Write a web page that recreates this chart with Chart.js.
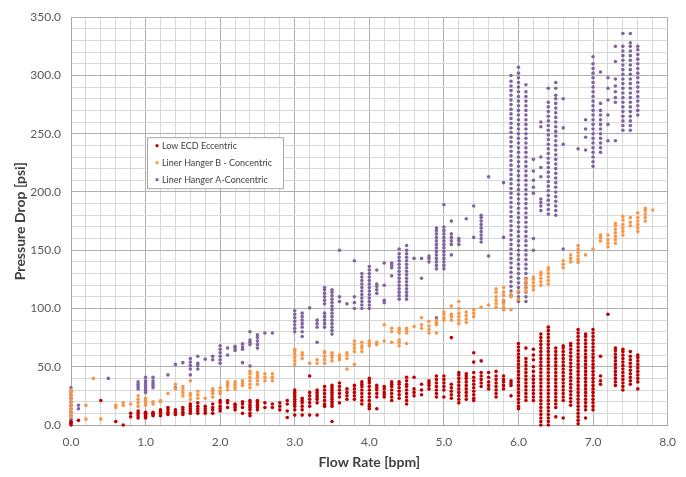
<!DOCTYPE html>
<html>
<head>
<meta charset="utf-8">
<script src="https://cdn.jsdelivr.net/npm/chart.js@4"></script>
<style>
  html, body { margin: 0; padding: 0; background: #fff; }
  canvas { display: block; }
</style>
</head>
<body>
<canvas id="dropChart" width="686" height="477"></canvas>
<script>
// flow rate [bpm] -> pressure drop readings [psi], one column per flow rate
const lowEcdColumns = [
  [0.0, [0, 1, 2, 3]], [0.1, [4]], [0.4, [21]], [0.6, [3]], [0.7, [0]],
  [0.8, [7, 10]], [0.9, [6, 8, 10, 12]], [1.0, [6, 7, 8, 9, 10, 11]], [1.1, [8, 9, 10, 11]],
  [1.2, [8, 10, 12, 13]], [1.3, [9, 11, 13, 15]], [1.4, [9, 11, 13]], [1.5, [9, 11, 13, 15]],
  [1.6, [10, 12, 14, 16, 18]], [1.7, [10, 12, 14, 16, 19]], [1.8, [10, 12, 14, 16]],
  [1.9, [10, 13, 15, 18]], [2.0, [12, 14, 16, 19, 21]], [2.1, [15, 19, 21]], [2.2, [13, 15, 17, 18]],
  [2.3, [10, 15, 18, 20]], [2.4, [8, 10, 13, 15, 17, 19, 21]], [2.5, [13, 15, 17, 19, 21]],
  [2.6, [15, 19]], [2.7, [15, 18]], [2.8, [13, 16, 19]], [2.9, [6.5, 12, 18, 21]],
  [3.0, [8.5, 13, 16, 18, 20, 22, 24, 26, 28, 30]], [3.1, [8.5, 13, 16, 19, 21, 23]],
  [3.2, [8.5, 16, 19, 22, 25, 28, 42]], [3.3, [8.5, 19, 22, 24, 26, 28, 30]],
  [3.4, [16, 18, 21, 24, 27, 30, 33]], [3.5, [3, 16, 18, 20, 22, 24, 26, 28, 30, 32, 34]],
  [3.6, [19, 24, 27, 30, 33, 36]], [3.7, [22, 25, 28, 31]], [3.8, [22, 25, 28, 31, 34]],
  [3.9, [18, 21, 24, 27, 30, 33, 35, 37]], [4.0, [14, 16, 18, 21, 24, 27, 30, 33, 36, 38, 40]],
  [4.1, [14, 24, 27, 30, 32, 34]], [4.2, [24, 26, 28, 31, 33]], [4.3, [21, 24, 27, 30, 33, 35, 37]],
  [4.4, [23, 26, 29, 32, 35, 37]], [4.5, [18, 21, 24, 27, 30, 33, 35, 38, 41]],
  [4.6, [25, 28, 31, 41]], [4.7, [26, 30, 35]], [4.8, [31, 34, 36, 38]],
  [4.9, [24, 27, 30, 33, 36, 39, 42]], [5.0, [24, 30, 33, 36, 39, 42]],
  [5.1, [23, 26, 29, 32, 35, 75]], [5.2, [19, 22, 25, 28, 31, 34, 37, 40, 43, 45]],
  [5.3, [22, 25, 28, 31, 34, 37, 40, 42, 44]], [5.4, [21, 23, 26, 29, 32, 35, 38, 41, 45, 54, 62]],
  [5.5, [33, 36, 39, 42, 45, 55]], [5.6, [31, 34, 37, 41, 45]],
  [5.7, [24, 27, 30, 33, 36, 39, 42, 46]], [5.8, [31, 34, 37, 39, 42]], [5.9, [25, 34, 36, 38]],
  [6.0, [14, 16, 19, 22, 25, 28, 31, 34, 37, 40, 43, 46, 49, 52, 55, 58, 61, 64, 67, 70]],
  [6.1, [21, 24, 27, 30, 33, 36, 39, 42, 45, 48, 51, 54, 57, 66]],
  [6.2, [21, 24, 27, 30, 33, 36, 39, 42, 46, 50, 56, 60, 65]],
  [6.3, [0, 3, 6, 9, 12, 15, 18, 21, 24, 27, 30, 33, 36, 39, 42, 45, 48, 51, 54, 57, 60, 63, 66, 69, 72, 75, 78]],
  [6.4, [0, 3, 6, 9, 12, 15, 18, 21, 24, 27, 30, 33, 36, 39, 42, 45, 48, 51, 54, 57, 60, 63, 66, 69, 72, 75, 78, 81, 84]],
  [6.5, [7, 15, 18, 21, 24, 27, 30, 33, 36, 39, 42, 45, 48, 51, 54, 57, 60, 63, 66]],
  [6.6, [6, 21, 24, 27, 30, 33, 36, 39, 42, 45, 48, 51, 54, 57, 60, 63, 66, 68]],
  [6.7, [17, 20, 23, 26, 29, 32, 35, 38, 41, 44, 47, 50, 53, 56, 59, 62, 65, 68, 70]],
  [6.8, [1, 4, 7, 10, 13, 16, 19, 22, 25, 28, 31, 34, 37, 40, 43, 46, 49, 52, 55, 58, 61, 64, 67, 70, 73, 76, 79, 82]],
  [6.9, [6, 13, 16, 19, 22, 25, 28, 31, 34, 37, 40, 43, 46, 49, 52, 55, 58, 61, 64, 67, 70, 73, 76, 78]],
  [7.0, [13, 16, 19, 22, 25, 28, 31, 34, 37, 40, 43, 46, 49, 52, 55, 58, 61, 64, 67, 70, 73, 76, 79, 82]],
  [7.1, [35, 38, 42, 59]], [7.2, [95]],
  [7.3, [34, 37, 40, 43, 46, 49, 52, 55, 58, 61, 64, 66]],
  [7.4, [30, 33, 36, 39, 42, 45, 48, 51, 54, 57, 60, 63, 65]],
  [7.5, [35, 38, 41, 44, 47, 50, 53, 56, 59, 63]],
  [7.6, [31, 37, 40, 43, 46, 49, 52, 55, 58, 60]]
];

const linerBColumns = [
  [0.0, [7, 10, 13, 16, 19, 22, 25, 28, 30]], [0.2, [5, 17]], [0.3, [40]], [0.4, [5]],
  [0.6, [15, 17]], [0.7, [17, 19]], [0.8, [18]], [0.9, [16, 19, 22, 25]], [1.0, [17, 19, 21, 23]],
  [1.1, [18, 20]], [1.2, [20, 21]], [1.3, [27]], [1.4, [31, 35]], [1.5, [25, 28, 31, 33]],
  [1.6, [22, 25, 27, 38]], [1.7, [23, 26, 29]], [1.8, [23]], [1.9, [24, 27, 29, 31]],
  [2.0, [27, 29, 32]], [2.1, [30, 33, 35, 37]], [2.2, [31, 33, 35, 37]], [2.3, [34, 36, 38]],
  [2.4, [32, 35, 38, 41, 44, 46]], [2.5, [35, 38, 41, 43, 45]], [2.6, [38, 41, 44]], [2.7, [38, 41, 44]],
  [3.0, [52, 55, 58, 61, 63, 65]], [3.1, [57, 60, 62]], [3.2, [53]], [3.3, [53, 56]],
  [3.4, [53, 56, 59, 62, 63]], [3.5, [55, 58, 60, 62]], [3.6, [56, 58, 60]], [3.7, [48, 57, 60, 62]],
  [3.8, [52, 63, 66, 69, 72]], [3.9, [63, 66, 68, 71]], [4.0, [68, 70, 72]], [4.1, [69, 71]],
  [4.2, [72, 86]], [4.3, [71, 80, 83]], [4.4, [68, 71, 73, 79, 81, 83]], [4.5, [70, 79, 81, 83]],
  [4.6, [84.5]], [4.7, [83, 86, 92]], [4.8, [79, 82, 85, 89]], [4.9, [79, 86, 88, 90]],
  [5.0, [90, 92, 95, 97]], [5.1, [90, 93, 95, 102]], [5.2, [87, 90, 93, 96, 100, 106]],
  [5.3, [88, 91, 94, 97]], [5.4, [93, 96, 99]], [5.5, [101]], [5.6, [103]],
  [5.7, [101, 104, 107, 110, 114, 117]], [5.8, [99, 101, 104, 107, 111, 114, 118]],
  [5.9, [99, 110, 112]], [6.0, [108, 115]], [6.1, [114, 117, 120, 123, 125]],
  [6.2, [116, 119, 122, 125, 127]], [6.3, [120, 123, 126, 129, 131]],
  [6.4, [121, 124, 127, 130, 133, 135]], [6.6, [135, 138, 141]], [6.7, [140, 143, 146]],
  [6.8, [139.5, 142, 145, 148, 151, 154]], [6.9, [146]], [7.0, [151]], [7.1, [158, 161, 163]],
  [7.2, [153, 156, 159, 163]], [7.3, [156, 159, 162, 165, 168, 171, 173]],
  [7.4, [163, 166, 169, 172, 176, 179]], [7.5, [171, 174, 178]],
  [7.6, [166, 169, 172, 175, 178, 182]], [7.7, [175, 178, 181, 184, 186]], [7.8, [184.5]]
];

const linerAColumns = [
  [0.0, [2, 5, 8, 11, 14, 17, 20, 23, 26, 29, 32]], [0.1, [14, 17]], [0.5, [40]],
  [0.9, [31, 33, 35, 37]], [1.0, [28, 30, 32, 34, 36, 38, 41]], [1.1, [32, 34, 36, 38, 41]],
  [1.3, [43]], [1.4, [32, 52]], [1.5, [53.5]], [1.6, [43, 48, 51, 54, 57]], [1.7, [48, 51, 53, 59]],
  [1.8, [56.5]], [1.9, [56, 59]], [2.0, [53, 56, 59, 62, 65, 68]], [2.1, [60, 66]],
  [2.2, [64, 66, 67.6]], [2.3, [53.5, 65, 67, 69.6]], [2.4, [50.6, 69, 71, 73, 80]],
  [2.5, [66, 69, 72, 75, 77.5]], [2.6, [79]], [2.7, [79]],
  [3.0, [80, 83, 86, 89, 92, 95, 98]], [3.1, [76, 80, 84, 87, 90, 93, 96]], [3.2, [100.5]],
  [3.3, [71, 84, 87, 90]], [3.4, [84, 87, 90, 93, 96, 104, 107, 110, 113, 116, 118]],
  [3.5, [78, 81, 84, 87, 90, 93, 96, 99, 102, 105, 108, 111, 114, 116]],
  [3.6, [106, 110, 150]], [3.7, [104]], [3.8, [100, 105, 110, 141]],
  [3.9, [100, 103, 106, 109, 112, 115, 118, 121, 124, 127, 130]],
  [4.0, [100, 103, 106, 109, 112, 115, 118, 121, 124, 127, 130, 133, 136]],
  [4.1, [113, 116, 119, 121, 133]], [4.2, [105, 107, 120, 139]], [4.3, [128, 135, 137, 139]],
  [4.4, [108, 111, 114, 117, 120, 123, 126, 129, 132, 135, 138, 141, 144, 147, 151]],
  [4.5, [108, 111, 114, 117, 120, 123, 126, 129, 132, 135, 138, 141, 144, 147, 150, 154]],
  [4.6, [143]], [4.7, [126, 143]], [4.8, [140, 143, 145]],
  [4.9, [92, 134, 137, 140, 143, 146, 149, 152, 155, 158, 161, 164, 167, 169]],
  [5.0, [134, 137, 140, 143, 146, 149, 152, 155, 158, 161, 164, 167, 170, 189]],
  [5.1, [146, 155, 158, 161, 164, 175]], [5.2, [155, 158, 160]], [5.3, [177]], [5.4, [161, 188]],
  [5.5, [157, 160, 163, 166, 169, 172, 175, 178, 180]], [5.6, [145, 213]], [5.8, [106, 161, 208]],
  [5.9, [111, 115, 119, 123, 127, 131, 135, 139, 143, 147, 151, 155, 159, 163, 167, 171, 175, 179, 183, 187,
         191, 195, 199, 203, 207, 211, 215, 219, 223, 227, 231, 235, 239, 243, 247, 251, 255, 259, 263, 267,
         271, 275, 279, 283, 287, 291, 295, 300]],
  [6.0, [106, 110, 114, 118, 122, 126, 130, 134, 138, 142, 146, 150, 154, 158, 162, 166, 170, 174, 178, 182,
         186, 190, 194, 198, 202, 206, 210, 214, 218, 222, 226, 230, 234, 238, 242, 246, 250, 254, 258, 262,
         266, 270, 274, 278, 282, 286, 290, 294, 298, 302, 307]],
  [6.1, [106, 110, 114, 118, 122, 126, 130, 134, 138, 142, 146, 150, 154, 158, 162, 166, 170, 174, 178, 182,
         186, 190, 194, 198, 202, 206, 210, 214, 218, 222, 226, 230, 234, 238, 242, 246, 250, 254, 258, 262,
         266, 270, 274, 278, 282, 286, 292]],
  [6.2, [150, 160, 199, 204, 210, 218, 228]],
  [6.3, [184, 188, 191, 194, 213, 221, 230, 256, 260]],
  [6.4, [181, 185, 189, 193, 197, 201, 205, 209, 213, 217, 221, 225, 229, 233, 237, 241, 245, 249, 253, 257,
         261, 265, 269, 273, 277, 289]],
  [6.5, [180, 184, 188, 192, 196, 200, 204, 208, 212, 216, 220, 224, 228, 232, 236, 240, 244, 248, 252, 256,
         260, 264, 268, 272, 276, 280, 283, 289, 294]],
  [6.6, [151, 241, 255, 280]], [6.8, [237]], [6.9, [236, 247, 254, 262]],
  [7.0, [222, 226, 230, 234, 238, 242, 246, 250, 254, 258, 262, 266, 270, 274, 278, 282, 286, 290, 294, 298,
         302, 306, 310, 316]],
  [7.1, [234, 238, 242, 246, 250, 254, 258, 262, 266, 270, 276, 303]],
  [7.2, [244, 258, 266, 279, 289, 298]],
  [7.3, [244, 277, 281, 286, 291, 297, 312, 325]],
  [7.4, [253, 257, 261, 265, 269, 273, 277, 281, 285, 289, 293, 297, 301, 305, 309, 313, 317, 321, 325, 336]],
  [7.5, [253, 257, 261, 265, 269, 273, 277, 281, 285, 289, 293, 297, 301, 305, 309, 313, 317, 321, 325, 328, 336]],
  [7.6, [266, 270, 274, 278, 282, 286, 290, 294, 298, 302, 306, 310, 314, 318, 322, 325]]
];

const seriesNames = ['Low ECD Eccentric', 'Liner Hanger B - Concentric', 'Liner Hanger A-Concentric'];

const flowMax = 8;
const flowStep = 0.2;
const dropMax = 350;
const dropStep = 10;
const dropLabelEvery = 50;

function toPoints(columns) {
    return columns.flatMap(([flow, drops]) => drops.map(d => ({ x: flow, y: d })));
}

const isWhole = (v, every) => Math.abs(v / every - Math.round(v / every)) < 1e-6;
const fontFamily = 'Lato, "Open Sans", sans-serif';

// legend sits inside the plot, as in the original
const insideLegend = {
    id: 'insideLegend',
    afterDatasetsDraw(chart) {
        const { ctx, chartArea } = chart;
        const x = chartArea.left + 76, y = chartArea.top + 120, w = 136, h = 51;
        ctx.save();
        ctx.fillStyle = '#ffffff';
        ctx.fillRect(x, y, w, h);
        ctx.strokeStyle = '#a6a6a6';
        ctx.lineWidth = 1;
        ctx.strokeRect(x + 0.5, y + 0.5, w, h);
        ctx.font = '9px ' + fontFamily;
        ctx.textBaseline = 'middle';
        chart.data.datasets.forEach((ds, i) => {
            const cy = y + 8.5 + i * 17;
            ctx.fillStyle = ds.backgroundColor;
            ctx.beginPath();
            ctx.arc(x + 10, cy, 1.6, 0, Math.PI * 2);
            ctx.fill();
            ctx.fillStyle = '#404040';
            ctx.fillText(ds.label, x + 15, cy);
        });
        ctx.restore();
    }
};

const dropCtx = document.getElementById('dropChart').getContext('2d');
const dropChart = new Chart(dropCtx, {
    type: 'scatter',
    data: {
        datasets: [
            {
                label: seriesNames[0],
                data: toPoints(lowEcdColumns),
                backgroundColor: '#c00000',
                borderColor: '#c00000',
                clip: false, // dots on the axes are drawn whole
            },
            {
                label: seriesNames[1],
                data: toPoints(linerBColumns),
                backgroundColor: '#f79646',
                borderColor: '#f79646',
                clip: false,
            },
            {
                label: seriesNames[2],
                data: toPoints(linerAColumns),
                backgroundColor: '#8064a2',
                borderColor: '#8064a2',
                clip: false,
            },
        ],
    },
    options: {
        responsive: false,
        animation: false,
        devicePixelRatio: 1,
        layout: { padding: { top: 11, right: 18, bottom: 0, left: 0 } },
        elements: {
            point: { radius: 1.8, borderWidth: 0, hoverRadius: 1.8 },
        },
        plugins: {
            legend: { display: false },
            tooltip: { enabled: false },
        },
        scales: {
            x: {
                type: 'linear',
                min: 0,
                max: flowMax,
                afterFit: (s) => { s.height = 52; },
                grid: {
                    drawTicks: false,
                    color: (c) => (c.tick && isWhole(c.tick.value, 1)) ? '#b0b0b0' : '#d8d8d8',
                },
                border: { color: '#a6a6a6' },
                ticks: {
                    stepSize: flowStep,
                    autoSkip: false,
                    maxRotation: 0,
                    padding: 10,
                    color: '#595959',
                    font: { family: fontFamily, size: 12 },
                    callback: (v) => isWhole(v, 1) ? Number(v).toFixed(1) : '',
                },
                title: {
                    display: true,
                    text: 'Flow Rate [bpm]',
                    color: '#404040',
                    font: { family: fontFamily, size: 14, weight: 'bold' },
                    padding: { top: 0, bottom: 6 },
                },
            },
            y: {
                type: 'linear',
                min: 0,
                max: dropMax,
                afterFit: (s) => { s.width = 71; },
                grid: {
                    drawTicks: false,
                    color: (c) => (c.tick && isWhole(c.tick.value, dropLabelEvery)) ? '#b0b0b0' : '#d8d8d8',
                },
                border: { color: '#a6a6a6' },
                ticks: {
                    stepSize: dropStep,
                    autoSkip: false,
                    padding: 10,
                    color: '#595959',
                    font: { family: fontFamily, size: 12 },
                    callback: (v) => isWhole(v, dropLabelEvery) ? Number(v).toFixed(1) : '',
                },
                title: {
                    display: true,
                    text: 'Pressure Drop [psi]',
                    color: '#404040',
                    font: { family: fontFamily, size: 14, weight: 'bold' },
                    padding: { top: 12, bottom: 0 },
                },
            },
        },
    },
    plugins: [insideLegend],
});
</script>
</body>
</html>
